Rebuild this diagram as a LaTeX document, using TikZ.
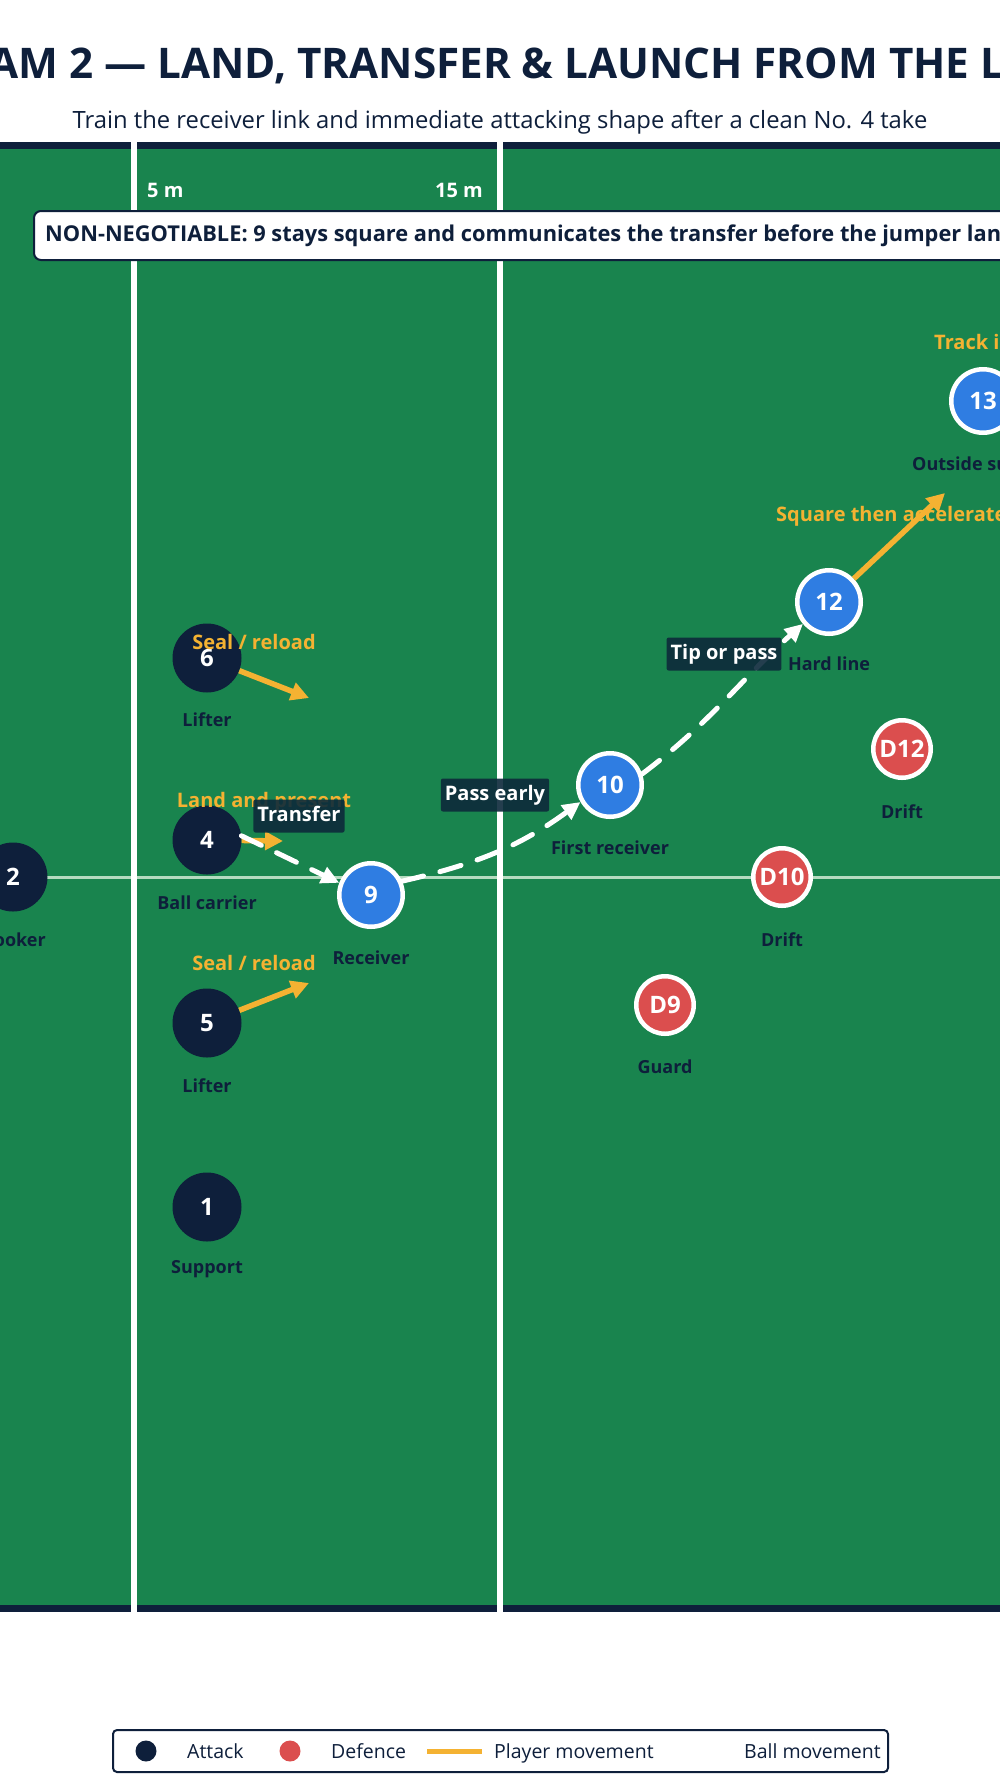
\documentclass[tikz,border=0pt]{standalone}
\usepackage{fontspec}
\setmainfont{Open Sans}
\usetikzlibrary{arrows.meta}
\definecolor{navy}{HTML}{0E1F3B}
\definecolor{pitch}{HTML}{19844E}
\definecolor{pblue}{HTML}{2F7DE2}
\definecolor{pred}{HTML}{DB4E4E}
\definecolor{porange}{HTML}{F4B232}
\definecolor{tagbg}{HTML}{0D2A3B}
\definecolor{midline}{HTML}{B5DBC0}
\begin{document}
\begin{tikzpicture}[x=1pt,y=-1pt,
 numfont/.style={font=\fontsize{24}{28}\selectfont\bfseries},
 attk/.style={circle,fill=navy,minimum size=69pt,inner sep=0pt,text=white,numfont},
 recv/.style={circle,fill=pblue,draw=white,line width=4.5pt,minimum size=63.5pt,inner sep=0pt,text=white,numfont},
 defn/.style={circle,fill=pred,draw=white,line width=4.5pt,minimum size=57.5pt,inner sep=0pt,text=white,numfont},
 role/.style={text=navy,font=\fontsize{18}{22}\selectfont\bfseries,inner sep=0pt},
 cue/.style={text=porange,font=\fontsize{20}{24}\selectfont\bfseries,inner sep=0pt},
 tagbox/.style={fill=tagbg,fill opacity=0.9,text opacity=1,text=white,font=\fontsize{20}{24}\selectfont\bfseries,inner xsep=4pt,inner ysep=7pt,text height=15pt,text depth=4pt,rounded corners=2pt},
 runarrow/.style={draw=porange,line width=5.5pt,-{Triangle[length=18pt,width=18pt]}},
 balllink/.style={draw=white,line width=5pt,line cap=round,dash pattern=on 22pt off 17pt,-{Triangle[length=18pt,width=17pt]}},
 legtext/.style={text=navy,font=\fontsize{19.5}{23}\selectfont,inner sep=0pt,anchor=base west},
 meter/.style={text=white,font=\fontsize{20}{24}\selectfont\bfseries,inner sep=0pt},
]
\useasboundingbox (0,0) rectangle (1000,1789);
\clip (0,0) rectangle (1000,1789);
\fill[white] (0,0) rectangle (1000,1789);

% title
\node[anchor=base west,font=\fontsize{42.2}{48}\selectfont\bfseries,text=navy,inner sep=0pt] (title) at (-11,78) {AM 2 — LAND, TRANSFER \& LAUNCH FROM THE LX};
\node[anchor=base,font=\fontsize{23.8}{28}\selectfont,text=navy,inner sep=0pt] (subtitle) at (500,128) {Train the receiver link and immediate attacking shape after a clean No. 4 take};

% pitch
\fill[pitch] (0,149) rectangle (1000,1605);
\fill[navy] (0,142) rectangle (1000,149);
\fill[navy] (0,1605) rectangle (1000,1612);
\draw[midline,line width=3pt] (0,877) -- (1000,877);
\draw[white,line width=6pt] (134,142) -- (134,1612);
\draw[white,line width=6pt] (500,142) -- (500,1612);
\node[meter,anchor=base west] (m5) at (147,197) {5 m};
\node[meter,anchor=base east] (m15) at (483,197) {15 m};

% banner
\draw[navy,line width=2pt,fill=white,rounded corners=7pt] (34,211) rectangle (1040,260);
\node[anchor=west,text=navy,font=\fontsize{21.8}{25}\selectfont\bfseries,inner sep=0pt] (banner) at (45,236) {NON-NEGOTIABLE: 9 stays square and communicates the transfer before the jumper land};

% players
\node[attk] (n2) at (13,877) {2};
\node[attk] (n6) at (207,658) {6};
\node[attk] (n4) at (207,840) {4};
\node[attk] (n5) at (207,1023) {5};
\node[attk] (n1) at (207,1207) {1};
\node[recv] (n9) at (371,895) {9};
\node[recv] (n10) at (610,785) {10};
\node[recv] (n12) at (829,602) {12};
\node[recv] (n13) at (983,401) {13};
\node[defn] (d12) at (902,749) {D12};
\node[defn] (d10) at (782,877) {D10};
\node[defn] (d9) at (665,1005) {D9};

% roles
\node[role,anchor=east] (l2) at (46,940) {ooker};
\node[role] (l6) at (207,720) {Lifter};
\node[role] (l4) at (207,903) {Ball carrier};
\node[role] (l5) at (207,1086) {Lifter};
\node[role] (l1) at (207,1269) {Support};
\node[role] (l9) at (371,958) {Receiver};
\node[role] (l10) at (610,848) {First receiver};
\node[role] (l12) at (829,664) {Hard line};
\node[role,anchor=west] (l13) at (912,464) {Outside su};
\node[role] (ld12) at (902,812) {Drift};
\node[role] (ld10) at (782,940) {Drift};
\node[role] (ld9) at (665,1067) {Guard};

% player movement
\coordinate (r6) at (309,698);
\coordinate (r4) at (283,841);
\coordinate (r5) at (309,983);
\coordinate (r12) at (945,493);
\draw[runarrow] (n6) -- (r6);
\draw[runarrow] (n4) -- (r4);
\draw[runarrow] (n5) -- (r5);
\draw[runarrow] (n12) -- (r12);

\node[cue] (c6) at (254,642) {Seal / reload};
\node[cue] (c4) at (264,802) {Land and present};
\node[cue] (c5) at (254,963) {Seal / reload};
\node[cue,anchor=west] (c12) at (776,516) {Square then accelerate};
\node[cue,anchor=west] (c13) at (934,342) {Track i};

% ball movement
\draw[balllink] (n4.7) -- (n9.159);
\draw[balllink] (n9.24) to[out=13,in=216] (n10.210);
\draw[balllink] (n10.19) to[out=37,in=222] (n12.220);

\node[tagbox] (t1) at (299,816) {Transfer};
\node[tagbox] (t2) at (495,795) {Pass early};
\node[tagbox] (t3) at (724,654) {Tip or pass};

% legend
\draw[navy,line width=2pt,fill=white,rounded corners=4pt] (113,1730) rectangle (888,1772);
\fill[navy] (146,1751) circle[radius=10.5];
\node[legtext] (lg1) at (187,1758) {Attack};
\fill[pred] (290,1751) circle[radius=10.5];
\node[legtext] (lg2) at (331,1758) {Defence};
\draw[porange,line width=5pt] (427,1751) -- (482,1751);
\node[legtext] (lg3) at (494,1758) {Player movement};
\node[legtext] (lg4) at (744,1758) {Ball movement};
\end{tikzpicture}
\end{document}
